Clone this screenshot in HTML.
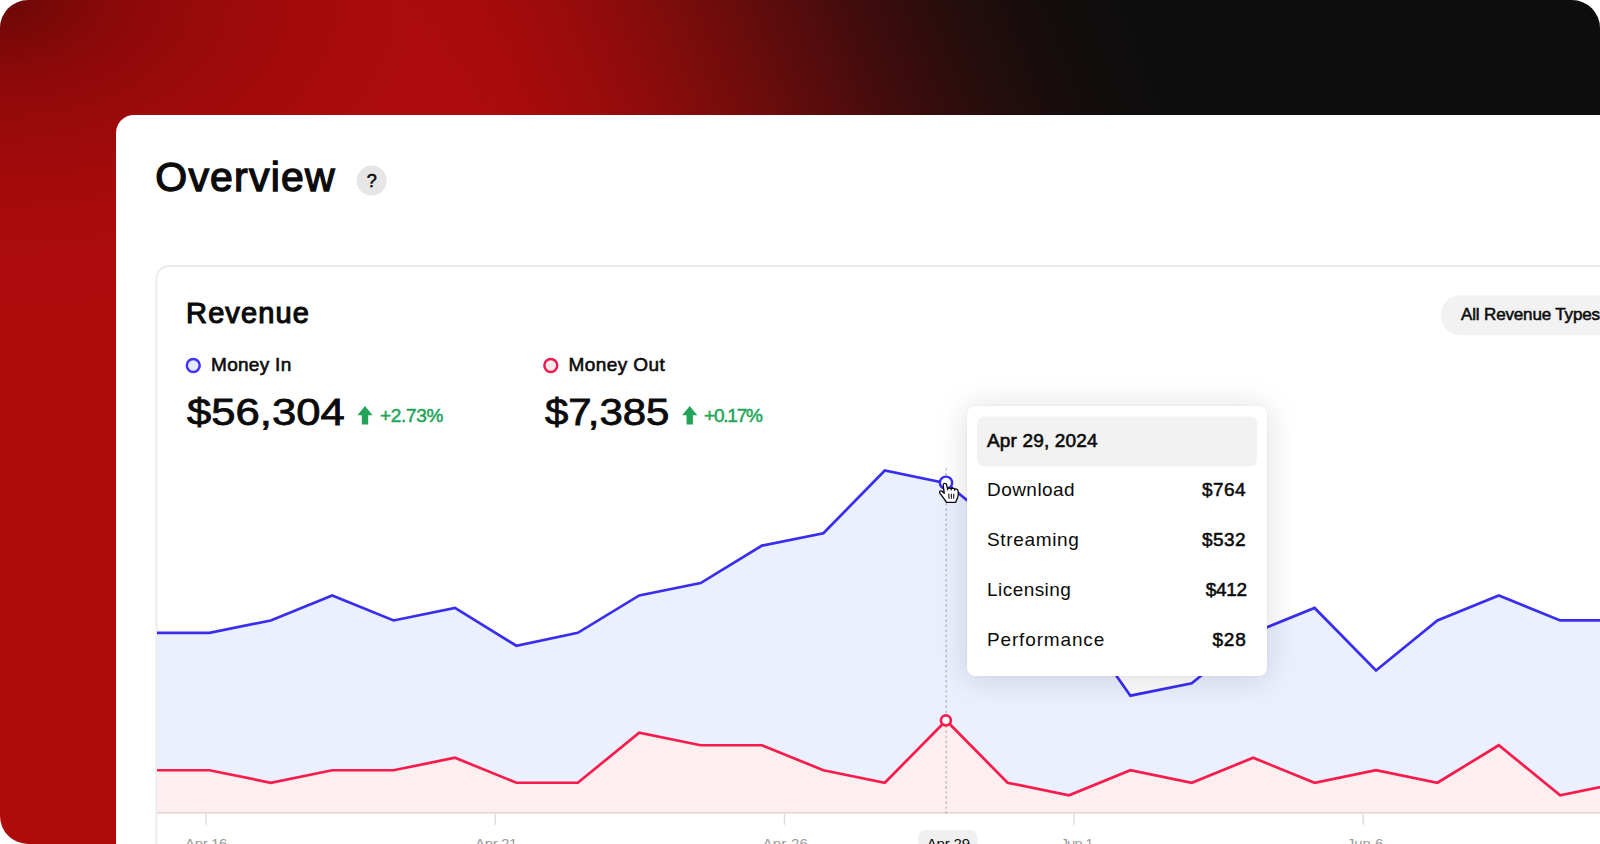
<!DOCTYPE html>
<html lang="en">
<head>
<meta charset="utf-8">
<title>Overview</title>
<style>
  html, body { margin: 0; padding: 0; background: #ffffff; }
  body { width: 1600px; height: 844px; overflow: hidden; position: relative;
    font-family: "Liberation Sans", sans-serif; color: #0b0b0b; }
  .frame { position: absolute; left: 0; top: 0; width: 1600px; height: 844px;
    border-radius: 28px 28px 0 28px; overflow: hidden;
    background: radial-gradient(ellipse 534px 327px at 0 0, rgba(0,0,0,0.400) 0.0%, rgba(0,0,0,0.315) 8.3%, rgba(0,0,0,0.245) 16.7%, rgba(0,0,0,0.188) 25.0%, rgba(0,0,0,0.143) 33.3%, rgba(0,0,0,0.080) 50.0%, rgba(0,0,0,0.037) 66.7%, rgba(0,0,0,0.012) 83.3%, rgba(0,0,0,0.000) 100.0%), linear-gradient(69deg, rgb(174,11,11) 0.0%, rgb(174,11,11) 38.0%, rgb(168,11,11) 41.8%, rgb(154,11,11) 46.0%, rgb(133,12,12) 50.2%, rgb(109,12,12) 54.2%, rgb(85,12,12) 58.1%, rgb(61,12,12) 61.9%, rgb(41,13,13) 65.6%, rgb(26,13,13) 69.2%, rgb(16,13,13) 73.0%, rgb(13,13,13) 77.0%, rgb(13,13,13) 100.0%);
  }
  .panel { position: absolute; left: 116px; top: 115px; width: 1500px; height: 760px;
    background: #fff; border-top-left-radius: 18px; }
  .abs { position: absolute; white-space: nowrap; line-height: 1; }
  .med { -webkit-text-stroke: 0.45px currentColor; }
  .title { left: 155.3px; top: 157.1px; font-size: 41px; letter-spacing: 1.2px; -webkit-text-stroke: 1.35px #0b0b0b; }
  .help { position: absolute; left: 356px; top: 165px; transform: translate(0.65px,0.55px); width: 30px; height: 30px; border-radius: 50%;
    background: #e6e6e6; text-align: center; font-size: 18px; line-height: 30.4px; -webkit-text-stroke: 0.55px #0b0b0b; }
  .card { position: absolute; left: 156px; top: 265px; transform: translateX(-0.55px); width: 1500px; height: 640px;
    border: 2px solid #ececec; border-radius: 14px; box-sizing: border-box; background: #fff; }
  .h2 { left: 186.1px; top: 298.9px; font-size: 29px; letter-spacing: 1.1px; -webkit-text-stroke: 1.15px #0b0b0b; }
  .pill { position: absolute; left: 1440px; top: 295px; transform: translate(0.6px,0.25px); width: 220px; height: 40px; border-radius: 20px; background: #f2f2f2; }
  .pilltxt { left: 1461px; top: 305.7px; font-size: 17px; letter-spacing: -0.15px; -webkit-text-stroke: 0.55px #0b0b0b; }
  .dot { position: absolute; width: 10.6px; height: 10.6px; border-radius: 50%; border: 2.4px solid; }
  .dot.b { left: 185.5px; top: 357.8px; border-color: #4033ff; background: #e4ebfc; }
  .dot.r { left: 543px; top: 357.8px; border-color: #ea1c4e; background: #fdecee; }
  .lbl { top: 354px; transform: translateY(0.6px); font-size: 19px; letter-spacing: 0.3px; -webkit-text-stroke: 0.6px #0b0b0b; }
  .big { top: 394.3px; font-size: 37px; -webkit-text-stroke: 0.8px #0b0b0b; transform-origin: 0 0; }
  .pct { top: 405.9px; font-size: 19px; letter-spacing: -0.3px; color: #22a559; -webkit-text-stroke: 0.5px #22a559; }
  svg { position: absolute; left: 0; top: 0; }
  .tip { position: absolute; left: 967px; top: 406px; width: 300px; height: 270px; background: #fff; border-radius: 8px;
    box-shadow: 0 3px 32px rgba(20,20,40,0.15), 0 0 2px rgba(20,20,40,0.08); }
  .tiphead { position: absolute; left: 10px; top: 10px; transform: translateY(0.5px); width: 280px; height: 50px; border-radius: 7px; background: #f2f2f2; }
  .tip .abs { font-size: 19px; letter-spacing: 0.45px; }
  .tip .k { left: 20px; }
  .tip .v { right: 21px; -webkit-text-stroke: 0.55px #0b0b0b; }
  .axl { top: 836.4px; font-size: 15px; color: #9b9b9b; transform: translate(-50%,0.35px); }
  .axsel { position: absolute; left: 918px; top: 830px; transform: translateX(0.4px); width: 59px; height: 30px; border-radius: 7px; background: #f0f0f0; }
</style>
</head>
<body>
<div class="frame">
  <div class="panel"></div>
  <div class="abs title">Overview</div>
  <div class="help">?</div>
  <div class="card"></div>
  <div class="abs h2">Revenue</div>
  <div class="pill"></div>
  <div class="abs pilltxt">All Revenue Types</div>

  <div class="abs lbl" style="left:211px">Money In</div>
  <div class="abs big" style="left:186.8px;transform:scaleX(1.18)">$56,304</div>
  <div class="abs pct" style="left:380px">+2.73%</div>

  <div class="abs lbl" style="left:568.5px;letter-spacing:0.42px">Money Out</div>
  <div class="abs big" style="left:544.8px;transform:scaleX(1.135)">$<span style="letter-spacing:-3.5px">7</span>,385</div>
  <div class="abs pct" style="left:704px;letter-spacing:-1.2px">+0.17%</div>

  <svg width="1600" height="844" viewBox="0 0 1600 844">
    <circle cx="193.25" cy="365.5" r="6.45" fill="#e6ecfd" stroke="#4033ff" stroke-width="2.5"/>
    <circle cx="550.8" cy="365.5" r="6.45" fill="#fdecee" stroke="#ee1c4e" stroke-width="2.5"/>
    <!-- green arrows -->
    <path id="arr" d="M365 406 L372.6 415.2 L368.2 415.2 L368.2 424.4 L361.8 424.4 L361.8 415.2 L357.4 415.2 Z" fill="#22a559"/>
    <path d="M689.7 406 L697.3 415.2 L692.9 415.2 L692.9 424.4 L686.5 424.4 L686.5 415.2 L682.1 415.2 Z" fill="#22a559"/>
    <g transform="translate(0 0.45)">
    <!-- areas -->
    <path d="M157 632.4 L209.4 632.4 L270.8 620 L332.2 595 L393.6 620 L455 607.5 L516.4 645.3 L577.8 632.4 L639.2 595 L700.6 582.6 L762 545.2 L823.4 532.8 L884.8 470 L946.2 482.8 L1007.6 532.8 L1069 607.5 L1130.4 695.2 L1191.8 682.8 L1253.2 632.4 L1314.6 607.5 L1376 670 L1437.4 620 L1498.8 595 L1560.2 620 L1621.6 620 L1621.6 813 L157 813 Z" fill="#eaf0fd"/>
    <path d="M157 769.8 L209.4 769.8 L270.8 782.3 L332.2 769.8 L393.6 769.8 L455 757.3 L516.4 782.3 L577.8 782.3 L639.2 732.3 L700.6 744.8 L762 744.8 L823.4 769.8 L884.8 782.3 L946.2 720 L1007.6 782.3 L1069 794.8 L1130.4 769.8 L1191.8 782.3 L1253.2 757.3 L1314.6 782.3 L1376 769.8 L1437.4 782.3 L1498.8 744.8 L1560.2 794.8 L1621.6 782.3 L1621.6 813 L157 813 Z" fill="#fdeeef"/>
    <!-- axis -->
    <rect x="157" y="811.5" width="1443" height="1.6" fill="#e6d6d8"/>
    <g fill="#dcdcdc" transform="translate(0 -0.45)">
      <rect x="205.3" y="813.8" width="1.4" height="11"/>
      <rect x="494.5" y="813.8" width="1.4" height="11"/>
      <rect x="783.8" y="813.8" width="1.4" height="11"/>
      <rect x="1073.3" y="813.8" width="1.4" height="11"/>
      <rect x="1362.5" y="813.8" width="1.4" height="11"/>
    </g>
    <!-- hover guide -->
    <line x1="946.2" y1="467.5" x2="946.2" y2="813" stroke="rgba(95,90,110,0.36)" stroke-width="1.4" stroke-dasharray="2.55 2.5"/>
    <!-- lines -->
    <path d="M157 632.4 L209.4 632.4 L270.8 620 L332.2 595 L393.6 620 L455 607.5 L516.4 645.3 L577.8 632.4 L639.2 595 L700.6 582.6 L762 545.2 L823.4 532.8 L884.8 470 L946.2 482.8 L1007.6 532.8 L1069 607.5 L1130.4 695.2 L1191.8 682.8 L1253.2 632.4 L1314.6 607.5 L1376 670 L1437.4 620 L1498.8 595 L1560.2 620 L1621.6 620" fill="none" stroke="#3a2df2" stroke-width="2.7" stroke-linejoin="miter"/>
    <path d="M157 769.8 L209.4 769.8 L270.8 782.3 L332.2 769.8 L393.6 769.8 L455 757.3 L516.4 782.3 L577.8 782.3 L639.2 732.3 L700.6 744.8 L762 744.8 L823.4 769.8 L884.8 782.3 L946.2 720 L1007.6 782.3 L1069 794.8 L1130.4 769.8 L1191.8 782.3 L1253.2 757.3 L1314.6 782.3 L1376 769.8 L1437.4 782.3 L1498.8 744.8 L1560.2 794.8 L1621.6 782.3" fill="none" stroke="#f81b4b" stroke-width="2.7" stroke-linejoin="miter"/>
    <circle cx="946" cy="482.3" r="6.15" fill="#fff" stroke="#3a2df2" stroke-width="2.4"/>
    <circle cx="945.9" cy="719.9" r="5" fill="#fff" stroke="#f81b4b" stroke-width="2.6"/>
    </g>
  </svg>

  <div class="axsel"></div>
  <div class="abs axl" style="left:206px;letter-spacing:-0.4px">Apr 16</div>
  <div class="abs axl" style="left:496px;letter-spacing:-0.4px">Apr 21</div>
  <div class="abs axl" style="left:785.3px;letter-spacing:0.2px">Apr 26</div>
  <div class="abs axl" style="left:948.3px;color:#0b0b0b;letter-spacing:-0.2px">Apr 29</div>
  <div class="abs axl" style="left:1076.6px;letter-spacing:-0.9px">Jun 1</div>
  <div class="abs axl" style="left:1365px">Jun 6</div>

  <div class="tip">
    <div class="tiphead"></div>
    <div class="abs k" style="top:24.6px;letter-spacing:0.15px;-webkit-text-stroke:0.6px #0b0b0b">Apr 29, 2024</div>
    <div class="abs k" style="top:73.9px">Download</div><div class="abs v" style="top:73.9px">$764</div>
    <div class="abs k" style="top:123.9px;letter-spacing:0.65px">Streaming</div><div class="abs v" style="top:123.9px">$532</div>
    <div class="abs k" style="top:173.9px">Licensing</div><div class="abs v" style="top:173.9px;letter-spacing:-0.3px;right:20.3px">$412</div>
    <div class="abs k" style="top:223.9px;letter-spacing:0.85px">Performance</div><div class="abs v" style="top:223.9px;letter-spacing:0.9px;right:20.2px">$28</div>
  </div>

  <svg width="1600" height="844" viewBox="0 0 1600 844" style="pointer-events:none">
    <!-- hand cursor -->
    <g transform="translate(930 470)">
      <path d="M14.9 13.3 C15.9 13.3 16.5 14 16.7 15.1 L17.5 18.7 C18.5 17.7 20.6 17.7 21.2 18.8 C22.2 18 24.2 18.1 24.6 19.3 C25.6 18.7 27.6 19 27.9 20.5 C28.6 22.6 28.3 25.6 27.6 27.5 L25.7 32.3 L16.5 32.3 C14.6 29.4 11.8 25.8 9.9 23.3 C8.9 22 10.3 20.3 11.7 21.1 L14.2 23.2 L13.2 15.3 C13 14.1 13.8 13.3 14.9 13.3 Z" fill="#fff" stroke="#0a0a0a" stroke-width="1.35" stroke-linejoin="round"/>
      <path d="M18.8 23.8 L19 28.8 M21.3 23.8 L21.4 28.8 M23.8 23.8 L23.7 28.8 M21.2 18.9 L21.2 20.6 M24.6 19.4 L24.6 21 M17.6 18.8 L17.7 20.4" stroke="#0a0a0a" stroke-width="1.05" fill="none"/>
    </g>
  </svg>
</div>
</body>
</html>
